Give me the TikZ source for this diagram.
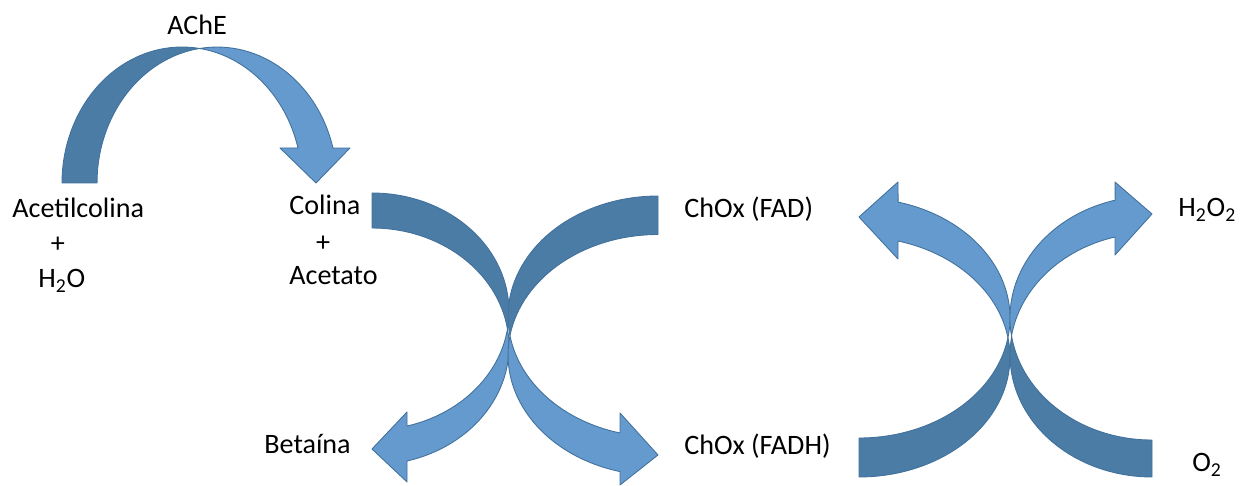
\documentclass[tikz,border=0pt]{standalone}
\usepackage{fontspec}
\setmainfont{Carlito}
\definecolor{banddark}{RGB}{74,124,165}
\definecolor{bandlight}{RGB}{101,154,206}
\definecolor{bandedge}{RGB}{66,113,156}

\begin{document}
\begin{tikzpicture}[x=0.02cm, y=-0.02cm, font=\fontsize{16}{19}\selectfont,
	backband/.style={fill=banddark, draw=bandedge, line width=0.5pt, line join=round},
	frontarrow/.style={fill=bandlight, draw=bandedge, line width=0.5pt, line join=round},
	lbl/.style={inner sep=0pt, anchor=base west}]
	\useasboundingbox (0,0) rectangle (1249,486);

	% AChE
	\path[backband] (62,183) arc[start angle=180, end angle=278.4, x radius=120, y radius=136] arc[start angle=261.6, end angle=180, x radius=120, y radius=136] -- cycle;
	\path[frontarrow] (199.5,48.5) arc[start angle=261.6, end angle=345.1, x radius=120, y radius=136] -- (350,148) -- (316,183) -- (280,148) -- (298,148) arc[start angle=345.1, end angle=278.4, x radius=120, y radius=136] -- cycle;

	% Colina -> Betaina
	\path[backband] (372,193) arc[start angle=270, end angle=368.5, x radius=137, y radius=118.5] arc[start angle=-8.5, end angle=-90, x radius=137, y radius=118.5] -- cycle;
	\path[frontarrow] (507.5,329) arc[start angle=8.5, end angle=75.2, x radius=137, y radius=118.5] -- (407,412) -- (372,449) -- (407,482) -- (407,461) arc[start angle=75.2, end angle=-8.5, x radius=137, y radius=118.5] -- cycle;

	% ChOx (FAD) -> ChOx (FADH)
	\path[backband] (658,196) arc[start angle=270, end angle=170.8, x radius=150, y radius=120.5] arc[start angle=189.2, end angle=270, x radius=150, y radius=120.5] -- cycle;
	\path[frontarrow] (510,335.7) arc[start angle=170.8, end angle=104.7, x radius=150, y radius=120.5] -- (620,413) -- (658,455) -- (620,485) -- (620,471.6) arc[start angle=104.7, end angle=189.2, x radius=150, y radius=120.5] -- cycle;

	% ChOx (FADH) -> ChOx (FAD)
	\path[backband] (859,477) arc[start angle=90, end angle=-9.35, x radius=151, y radius=120] arc[start angle=9.35, end angle=90, x radius=151, y radius=120] -- cycle;
	\path[frontarrow] (1008,337.5) arc[start angle=9.35, end angle=-75, x radius=151, y radius=120] -- (898,182) -- (859,217) -- (898,259) -- (898,241) arc[start angle=-75, end angle=-9.35, x radius=151, y radius=120] -- cycle;

	% O2 -> H2O2
	\path[backband] (1152,477) arc[start angle=90, end angle=188.72, x radius=142, y radius=122] arc[start angle=171.28, end angle=90, x radius=142, y radius=122] -- cycle;
	\path[frontarrow] (1011.6,336.5) arc[start angle=171.28, end angle=255, x radius=142, y radius=122] -- (1115,182) -- (1152,214) -- (1115,255) -- (1115,237) arc[start angle=255, end angle=188.72, x radius=142, y radius=122] -- cycle;

	\node[lbl] (ache) at (167,35) {AChE};
	\node[lbl] (acetil) at (12,218) {Acetilcolina};
	\node[lbl, anchor=base] (plusa) at (58,253) {+};
	\node[lbl] (water) at (38,288) {H\textsubscript{2}O};
	\node[lbl] (colina) at (289,215) {Colina};
	\node[lbl, anchor=base] (plusb) at (323,252) {+};
	\node[lbl] (acetato) at (289,285) {Acetato};
	\node[lbl] (betaina) at (264,454) {Betaína};
	\node[lbl] (fad) at (684,218) {ChOx (FAD)};
	\node[lbl] (fadh) at (684,455) {ChOx (FADH)};
	\node[lbl] (perox) at (1178,217) {H\textsubscript{2}O\textsubscript{2}};
	\node[lbl] (oxy) at (1192,472) {O\textsubscript{2}};
\end{tikzpicture}
\end{document}
